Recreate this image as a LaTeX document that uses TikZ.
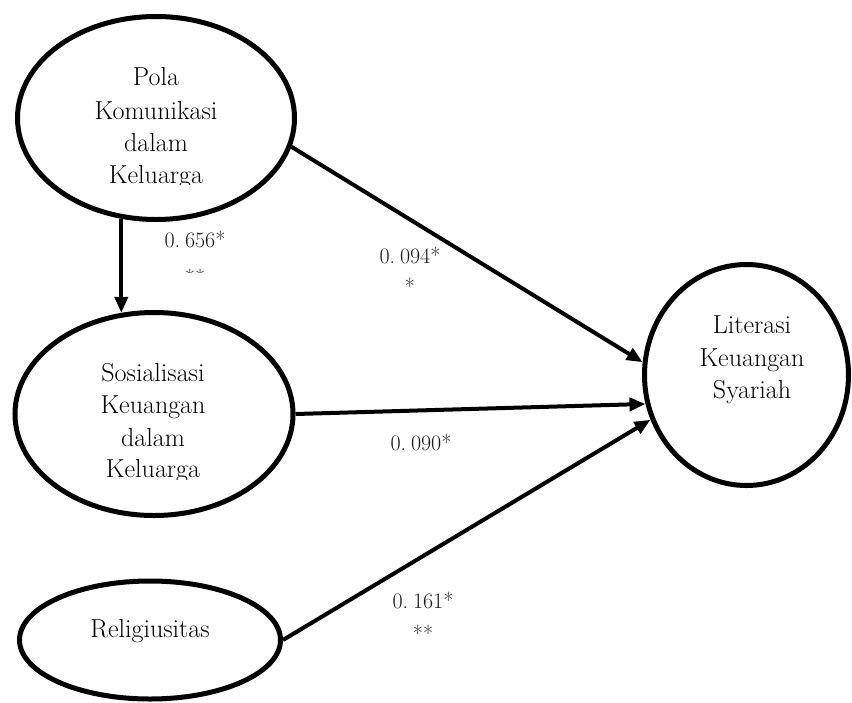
\documentclass[tikz,border=0pt]{standalone}
\usepackage{fontspec}
\usetikzlibrary{shapes.geometric,arrows.meta}
\tikzset{
  latent/.style={draw,ellipse,line width=5pt,inner sep=0pt},
  txt/.style={anchor=base,inner sep=0pt,font=\fontsize{26}{30}\selectfont},
  coef/.style={anchor=base,inner sep=0pt,font=\fontsize{22}{26}\selectfont,text=black!90},
  arr/.style={line width=4pt,-{Triangle[length=16pt,width=13pt]}}
}
\newcommand{\cgap}{\hspace{0.22em}}
\begin{document}
\begin{tikzpicture}[x=1pt,y=-1pt]
\useasboundingbox (0,0) rectangle (852,702);
% constructs
\node[latent,minimum width=277pt,minimum height=203pt] (pola) at (156,118) {};
\node[latent,minimum width=278pt,minimum height=203pt] (sos) at (154,414) {};
\node[latent,minimum width=261pt,minimum height=118pt] (rel) at (150,640) {};
\node[latent,minimum width=204pt,minimum height=221pt] (lit) at (746.5,375) {};
% texts
\begin{scope}
\clip (0,0) rectangle (852,184);
\node[txt] (p1) at (156,85) {Pola};
\node[txt] (p2) at (156,119) {Komunikasi};
\node[txt] (p3) at (156,151) {dalam};
\node[txt] (p4) at (156,183) {Keluarga};
\end{scope}
\begin{scope}
\clip (0,300) rectangle (852,479);
\node[txt] (s1) at (153,381) {Sosialisasi};
\node[txt] (s2) at (153,413) {Keuangan};
\node[txt] (s3) at (153,446) {dalam};
\node[txt] (s4) at (153,477) {Keluarga};
\end{scope}
\node[txt] (r1) at (150,637) {Religiusitas};
\node[txt] (l1) at (752,333) {Literasi};
\node[txt] (l2) at (752,366) {Keuangan};
\node[txt] (l3) at (752,398) {Syariah};
% paths
\draw[arr] (pola.251) -- (pola.251 |- sos.108);
\draw[arr] (pola.-12) -- (lit.173);
\draw[arr] (sos.east) -- (lit.196);
\draw[arr] (rel.east) -- (lit.205);
% coefficients
\node[coef] (c1) at (195,247) {0.\cgap656*};
\begin{scope}
\clip (0,200) rectangle (852,272);
\node[coef] (c1b) at (195,285) {**};
\end{scope}
\node[coef] (c2) at (410,263) {0.\cgap094*};
\node[coef] (c2b) at (410,294) {*};
\node[coef] (c3) at (421,450) {0.\cgap090*};
\node[coef] (c4) at (423,608) {0.\cgap161*};
\node[coef] (c4b) at (423,641) {**};
\end{tikzpicture}
\end{document}
